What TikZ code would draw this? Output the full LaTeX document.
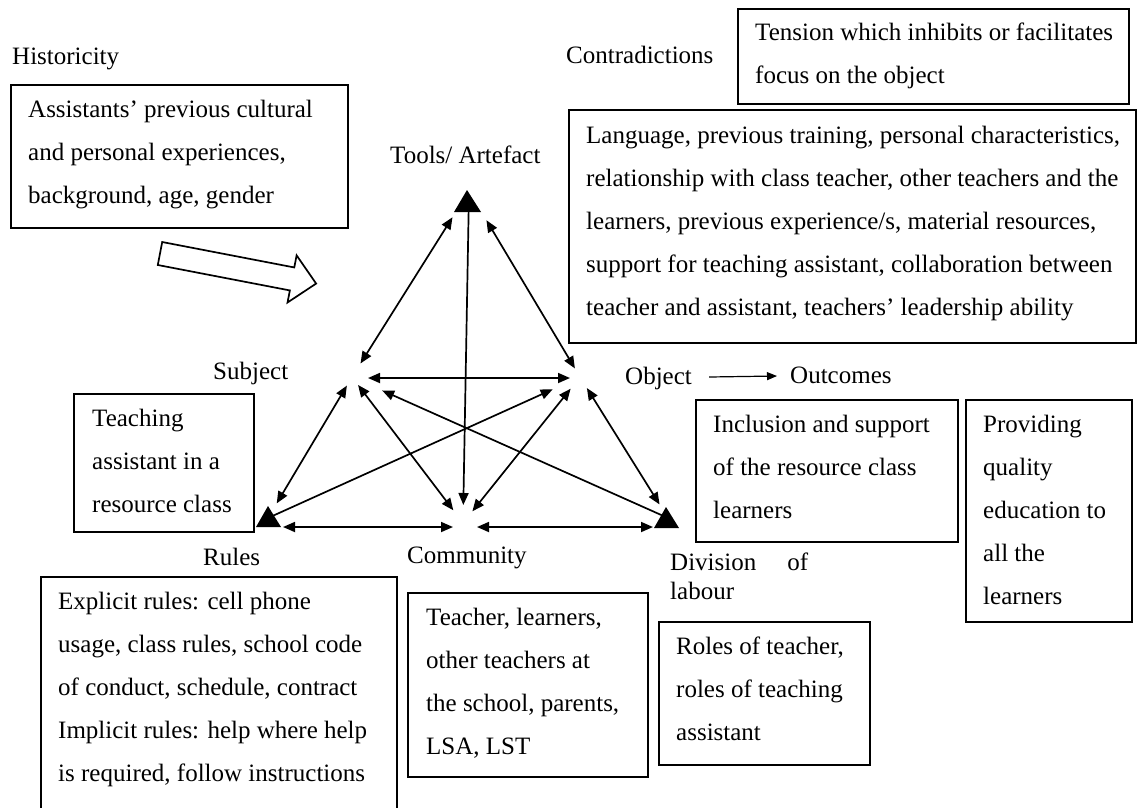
\documentclass[tikz,border=0pt]{standalone}
\usepackage{fontspec}
\setmainfont{Liberation Serif}
\usetikzlibrary{arrows.meta}
\begin{document}
\begin{tikzpicture}[x=1pt,y=-1pt,
  box/.style={draw, line width=1.5pt, inner sep=0pt, anchor=north west},
  txt/.style={inner sep=0pt, anchor=north west, align=left, font=\fontsize{25}{43}\selectfont},
  lbl/.style={inner sep=0pt, anchor=base west, font=\fontsize{25}{30}\selectfont},
  rel/.style={line width=1.7pt, {Triangle[length=12pt,width=10pt]}-{Triangle[length=12pt,width=10pt]}},
  one/.style={line width=1.7pt, -{Triangle[length=12pt,width=10pt]}},
  hollow/.style={line width=1.7pt, fill=white}
]
\useasboundingbox (0,0) rectangle (1137,807);
\clip (0,0) rectangle (1137,807);

% ---------- boxes ----------
\node[box, minimum width=337pt, minimum height=143pt] (hist) at (10,84) {};
\node[box, minimum width=391pt, minimum height=95pt]  (tension) at (737,8) {};
\node[box, minimum width=567pt, minimum height=233pt] (language) at (568,109) {};
\node[box, minimum width=180pt, minimum height=138pt] (subjbox) at (73,393) {};
\node[box, minimum width=262pt, minimum height=142pt] (inclusion) at (695,399) {};
\node[box, minimum width=166pt, minimum height=222pt] (providing) at (965,399) {};
\node[box, minimum width=356pt, minimum height=240pt] (rulesbox) at (40,576) {};
\node[box, minimum width=240pt, minimum height=184pt] (commbox) at (407,592) {};
\node[box, minimum width=211pt, minimum height=143pt] (roles) at (658,621) {};

% ---------- box texts ----------
\node[txt] (histtxt) at ([xshift=18pt,yshift=-13pt]hist.north west)
  {\rule{0pt}{20pt}Assistants’ previous cultural\\and personal experiences,\\background, age, gender};
\node[txt] (tensiontxt) at ([xshift=18pt,yshift=-12pt]tension.north west)
  {\rule{0pt}{20pt}Tension which inhibits or facilitates\\focus on the object};
\node[txt] (languagetxt) at ([xshift=18pt,yshift=-14pt]language.north west)
  {\rule{0pt}{20pt}Language, previous training, personal characteristics,\\relationship with class teacher, other teachers and the\\learners, previous experience/s, material resources,\\support for teaching assistant, collaboration between\\teacher and assistant, teachers’ leadership ability};
\node[txt] (subjtxt) at ([xshift=19pt,yshift=-13pt]subjbox.north west)
  {\rule{0pt}{20pt}Teaching\\assistant in a\\resource class};
\node[txt] (inclusiontxt) at ([xshift=18pt,yshift=-13pt]inclusion.north west)
  {\rule{0pt}{20pt}Inclusion and support\\of the resource class\\learners};
\node[txt] (providingtxt) at ([xshift=18pt,yshift=-13pt]providing.north west)
  {\rule{0pt}{20pt}Providing\\quality\\education to\\all the\\learners};
\node[txt] (rulestxt) at ([xshift=18pt,yshift=-13pt]rulesbox.north west)
  {\rule{0pt}{20pt}Explicit rules: cell phone\\usage, class rules, school code\\of conduct, schedule, contract\\Implicit rules: help where help\\is required, follow instructions};
\node[txt] (commtxt) at ([xshift=19pt,yshift=-13pt]commbox.north west)
  {\rule{0pt}{20pt}Teacher, learners,\\other teachers at\\the school, parents,\\LSA, LST};
\node[txt] (rolestxt) at ([xshift=18pt,yshift=-13pt]roles.north west)
  {\rule{0pt}{20pt}Roles of teacher,\\roles of teaching\\assistant};

% ---------- labels ----------
\node[lbl] (historicity) at (12,64) {Historicity};
\node[lbl] (contr) at (566,63) {Contradictions};
\node[lbl] (tools) at (390,163) {Tools/ Artefact};
\node[lbl] (subj) at (213,379) {Subject};
\node[lbl] (obj) at (625,384) {Object};
\node[lbl] (outc) at (790,383) {Outcomes};
\node[lbl] (rules) at (203,565) {Rules};
\node[lbl] (comm) at (407,563) {Community};
\node[lbl] (div) at (670,570) {Division\hspace{31pt}of};
\node[lbl] (lab) at (670,599) {labour};

\draw[line width=1.2pt, -{Triangle[length=10pt,width=8pt]}]
  ([xshift=17pt,yshift=7pt]obj.base east) -- ([xshift=-13pt,yshift=7pt]outc.base west);

% ---------- hollow arrow ----------
\begin{scope}[shift={(160,253.5)}, rotate=-10.9]
\draw[hollow] (0,-11.7) -- (134.5,-11.7) -- (134.5,-24) -- (159,0)
  -- (134.5,24) -- (134.5,11.7) -- (0,11.7) -- cycle;
\end{scope}

% ---------- activity triangle ----------
\coordinate (T) at (469,191);
\coordinate (S) at (352,377);
\coordinate (O) at (580,377);
\coordinate (C) at (463,523);
\coordinate (R) at (268,518);
\coordinate (D) at (668,518);

\draw[rel, shorten <=31pt, shorten >=16pt] (T) -- (S);
\draw[rel, shorten <=34pt, shorten >=10pt] (T) -- (O);
\draw[one, shorten <=12pt, shorten >=18pt] (T) -- (C);
\draw[rel, shorten <=16pt, shorten >=10pt] ([yshift=-1pt]S) -- ([yshift=-1pt]O);
\draw[rel, shorten <=10pt, shorten >=17pt] (S) -- (R);
\draw[rel, shorten <=10pt, shorten >=16pt] (S) -- (C);
\draw[one, shorten <=6pt, shorten >=33pt] (D) -- (S);
\draw[one, shorten <=6pt, shorten >=30pt] (R) -- (O);
\draw[rel, shorten <=15pt, shorten >=15pt] (O) -- (C);
\draw[rel, shorten <=13pt, shorten >=16pt] (O) -- (D);
\draw[rel, shorten <=15pt, shorten >=10pt] ([yshift=-9pt]R) -- ([yshift=-4pt]C);
\draw[rel, shorten <=14pt, shorten >=15pt] ([yshift=-4pt]C) -- ([yshift=-9pt]D);

\fill (T) ++(-2,-1) -- ++(-13,22) -- ++(27,0) -- cycle;
\fill (R) ++(0,-12) -- ++(-12,21) -- ++(25,0) -- cycle;
\fill (D) ++(-2,-11) -- ++(-12,21) -- ++(25,0) -- cycle;
\end{tikzpicture}
\end{document}
